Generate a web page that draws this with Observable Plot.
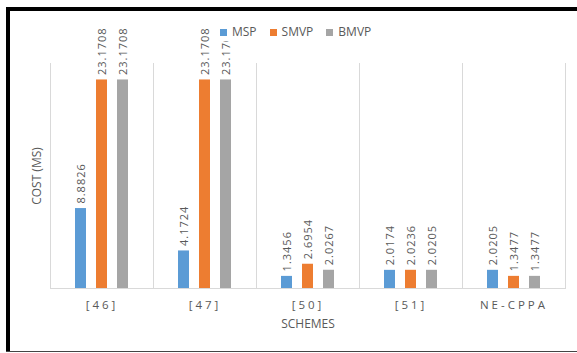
<!DOCTYPE html>
<html>
<head>
<meta charset="utf-8">
<script src="https://cdn.jsdelivr.net/npm/d3@7"></script>
<script src="https://cdn.jsdelivr.net/npm/@observablehq/plot@0.6"></script>
<style>
  html, body { margin: 0; padding: 0; background: #fff; overflow: hidden; width: 577px; height: 353px; }
  #wrap { position: relative; width: 577px; height: 353px; overflow: hidden; font-family: "Open Sans", sans-serif; }
  .bar { position: absolute; background: #000; }
  #btop { left: 6px; top: 7px; width: 571px; height: 4px; }
  #bleft { left: 6px; top: 7px; width: 4px; height: 345px; }
  #bbottom { left: 6px; top: 351px; width: 571px; height: 1px; background: #444; }
  #chart { position: absolute; left: 0; top: 0; }
  #chart svg { display: block; }
  #legend { position: absolute; left: 216px; top: 23px; background: #fff; display: flex; gap: 13px;
            padding: 1px 4px; font-size: 12px; color: #595959; line-height: 16px; z-index: 2; }
  #legend .item { display: flex; align-items: center; }
  #legend .sw { width: 7px; height: 7px; margin-right: 5px; margin-top: 1px; }
  #chart g[aria-label="fx-axis tick label"] text { letter-spacing: 3px; font-size: 11.5px; }
  #chart g[aria-label="fx-axis label"] text, #chart g[aria-label="y-axis label"] text { font-size: 12px; }
  #chart g[aria-label="text"] text { letter-spacing: 1px; }
</style>
</head>
<body>
<div id="wrap">
  <div class="bar" id="btop"></div>
  <div class="bar" id="bleft"></div>
  <div class="bar" id="bbottom"></div>
  <div id="chart"></div>
  <div id="legend"></div>
</div>
<script>
const schemes = ["[46]", "[47]", "[50]", "[51]", "NE-CPPA"];
const series = ["MSP", "SMVP", "BMVP"];
const msp  = [8.8826, 4.1724, 1.3456, 2.0174, 2.0205];
const smvp = [23.1708, 23.1708, 2.6954, 2.0236, 1.3477];
const bmvp = [23.1708, 23.1708, 2.0267, 2.0205, 1.3477];
const colors = ["#5B9BD5", "#ED7D31", "#A5A5A5"];
const yLabel = "COST (MS)";
const xLabel = "SCHEMES";

const seriesValues = [msp, smvp, bmvp];
const data = [];
schemes.forEach((s, i) => {
  series.forEach((k, j) => data.push({scheme: s, series: k, value: seriesValues[j][i]}));
});

const chart = Plot.plot({
  width: 577,
  height: 353,
  marginLeft: 49,
  marginRight: 12,
  marginTop: 63,
  marginBottom: 65,
  style: {fontFamily: "'Open Sans', sans-serif", fontSize: "11px", color: "#595959", background: "transparent"},
  fx: {domain: schemes, padding: 0, label: xLabel, labelAnchor: "center", tickSize: 0, tickPadding: 12, labelOffset: 39},
  x: {domain: series, paddingInner: 0.476, paddingOuter: 1.19, axis: null},
  y: {domain: [0, 25], ticks: [], label: yLabel, labelAnchor: "center", labelOffset: 18, labelArrow: "none"},
  color: {domain: series, range: colors},
  marks: [
    Plot.frame({anchor: "left", stroke: "#d9d9d9"}),
    Plot.frame({anchor: "right", stroke: "#d9d9d9"}),
    Plot.ruleY([0], {stroke: "#d9d9d9"}),
    Plot.barY(data, {fx: "scheme", x: "series", y: "value", fill: "series"}),
    Plot.text(data, {fx: "scheme", x: "series", y: "value", text: d => d.value.toFixed(4),
      rotate: -90, textAnchor: "start", lineAnchor: "middle", dy: -5, fill: "#595959", fontSize: 11})
  ]
});
document.getElementById("chart").appendChild(chart);

const legend = document.getElementById("legend");
series.forEach((s, i) => {
  const item = document.createElement("div");
  item.className = "item";
  const sw = document.createElement("span");
  sw.className = "sw";
  sw.style.background = colors[i];
  const t = document.createElement("span");
  t.textContent = s;
  item.appendChild(sw);
  item.appendChild(t);
  legend.appendChild(item);
});
</script>
</body>
</html>
